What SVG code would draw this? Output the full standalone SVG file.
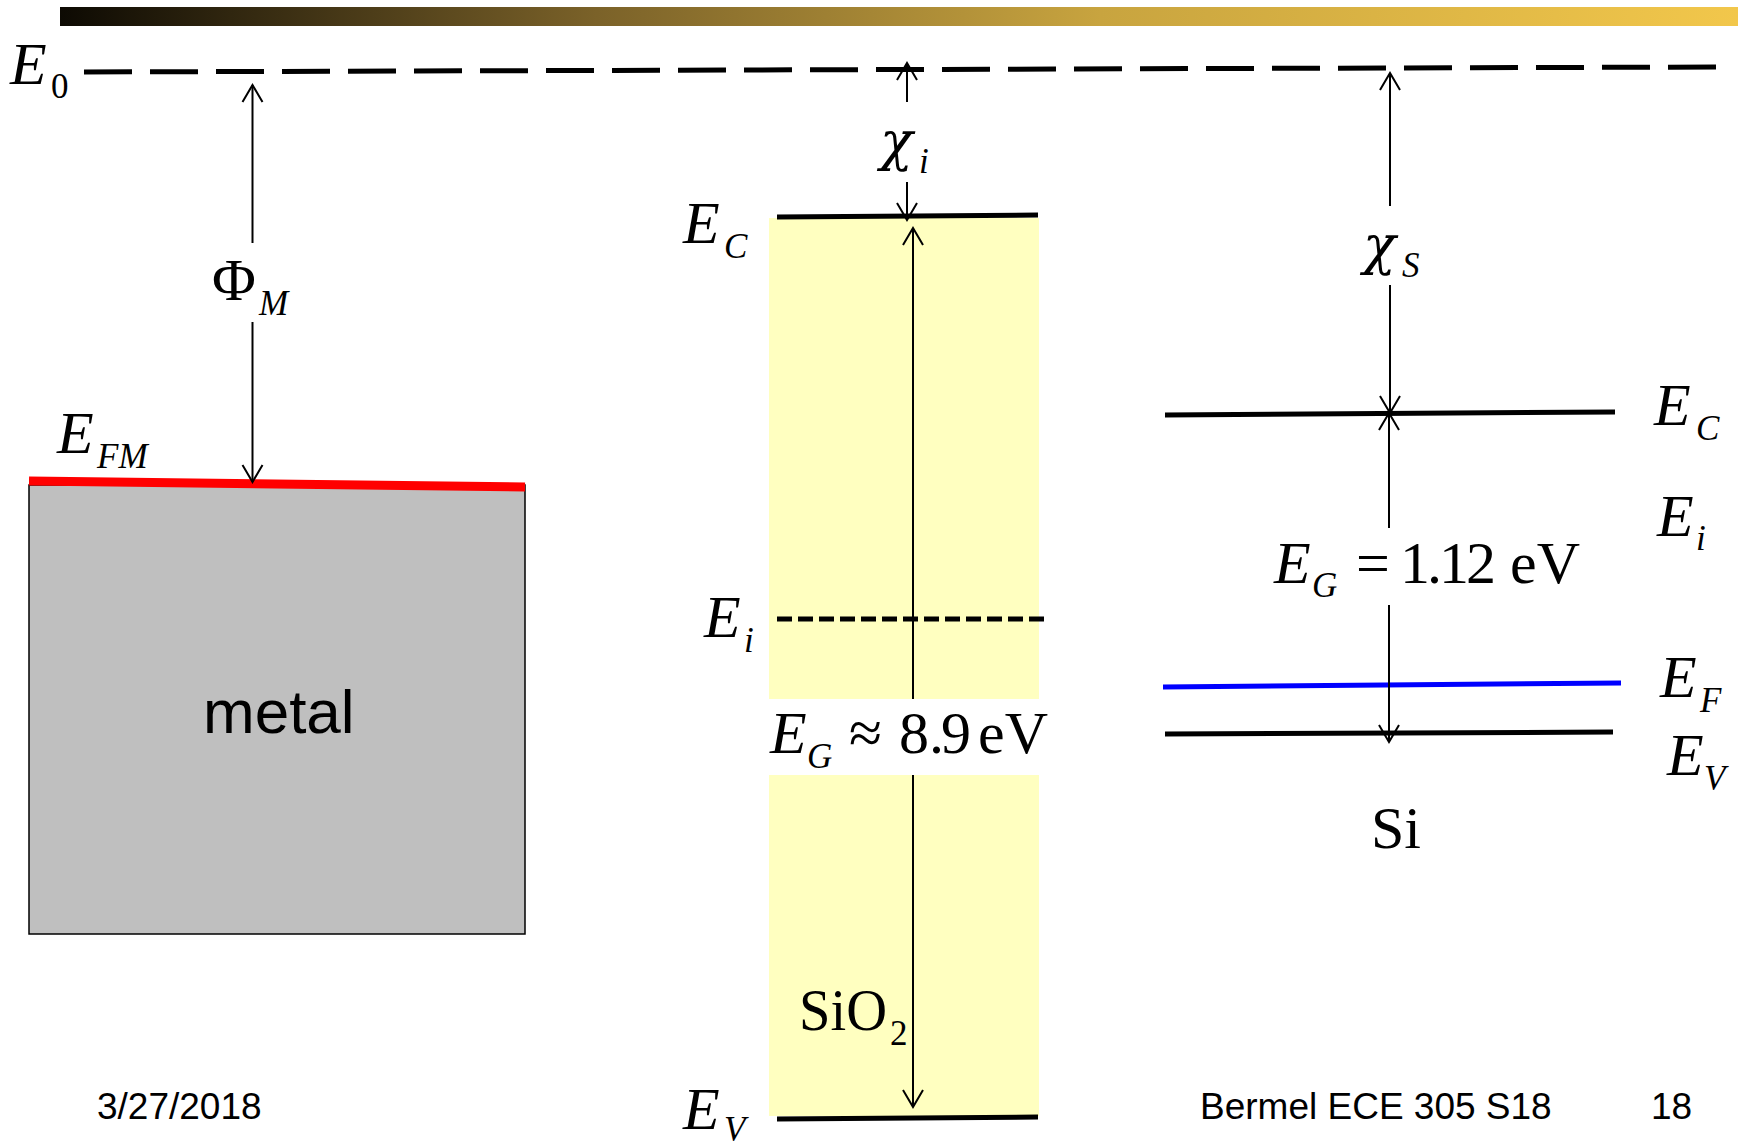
<svg xmlns="http://www.w3.org/2000/svg" width="1738" height="1147" viewBox="0 0 1738 1147">
<style>
.m{font-family:"Liberation Serif",serif;font-style:italic;font-size:60px;fill:#000}
.s{font-family:"Liberation Serif",serif;font-style:italic;font-size:35px;fill:#000}
.r{font-family:"Liberation Serif",serif;font-size:60px;fill:#000}
.rs{font-family:"Liberation Serif",serif;font-size:35px;fill:#000}
.chi{font-family:"DejaVu Serif",serif;font-style:italic;font-size:54px;fill:#000}
.a{font-family:"Liberation Sans",Arial,sans-serif;fill:#000}
.lvl{stroke:#000;stroke-width:5;fill:none}
.arr{stroke:#000;stroke-width:2;fill:none;marker-end:url(#ah)}
</style>
<defs>
<linearGradient id="bar" x1="0" y1="0" x2="1" y2="0">
<stop offset="0" stop-color="#0d0a03"/>
<stop offset="0.32" stop-color="#7b6229"/>
<stop offset="0.62" stop-color="#c8a43f"/>
<stop offset="1" stop-color="#f2c74b"/>
</linearGradient>
<marker id="ah" markerUnits="userSpaceOnUse" viewBox="-20 -12 22 24" markerWidth="22" markerHeight="24" refX="0" refY="0" orient="auto">
<path d="M-17,-10 L0,0 L-17,10" fill="none" stroke="#000" stroke-width="2"/>
</marker>
</defs>
<rect x="60" y="7" width="1678" height="19" fill="url(#bar)"/>

<g id="vacuum-level">
<path d="M84,72 L1719,67" class="lvl" stroke-dasharray="48 18"/>
<text class="m" x="10" y="84">E</text><text class="rs" x="51" y="98">0</text>
</g>

<g id="metal">
<rect x="29" y="485" width="496" height="449" fill="#bfbfbf" stroke="#000" stroke-width="1.5"/>
<path d="M29,481 L525,487" stroke="#ff0000" stroke-width="9" fill="none"/>
<text class="m" x="57" y="453">E</text><text class="s" x="97" y="468">FM</text>
<text class="a" x="203" y="733" font-size="62">metal</text>
</g>

<g id="sio2">
<rect x="769" y="218" width="270" height="481" fill="#ffffc0"/>
<rect x="769" y="775" width="270" height="341" fill="#ffffc0"/>
<path d="M777,217 L1038,215" class="lvl"/>
<path d="M777,619 L1048,619" class="lvl" stroke-dasharray="15 6"/>
<path d="M777,1119 L1038,1117" class="lvl"/>
<text class="m" x="683" y="243">E</text><text class="s" x="724" y="258">C</text>
<text class="m" x="704" y="637">E</text><text class="s" x="744" y="652">i</text>
<text class="m" x="683" y="1129">E</text><text class="s" x="724" y="1141">V</text>
<text class="r" x="799" y="1030" textLength="88" lengthAdjust="spacingAndGlyphs">SiO</text><text class="rs" x="890" y="1045">2</text>
</g>

<g id="si">
<path d="M1165,415 L1615,412" class="lvl"/>
<path d="M1163,687 L1621,683" stroke="#0000ff" stroke-width="5" fill="none"/>
<path d="M1165,734 L1613,732" class="lvl"/>
<text class="m" x="1654" y="425">E</text><text class="s" x="1696" y="440">C</text>
<text class="m" x="1657" y="536">E</text><text class="s" x="1696" y="550">i</text>
<text class="m" x="1660" y="697">E</text><text class="s" x="1700" y="712">F</text>
<text class="m" x="1667" y="775">E</text><text class="s" x="1704" y="790">V</text>
<text class="r" x="1371" y="848">Si</text>
</g>

<g id="connectors">
<path d="M252.5,243 L252.5,85" class="arr"/>
<path d="M252.5,322 L252.5,482" class="arr"/>
<path d="M907,102 L907,63" class="arr"/>
<path d="M907,182 L907,220" class="arr"/>
<path d="M913,699 L913,228" class="arr"/>
<path d="M913,775 L913,1107" class="arr"/>
<path d="M1390,206 L1390,73" class="arr"/>
<path d="M1390,285 L1390,413" class="arr"/>
<path d="M1389,528 L1389,413" class="arr"/>
<path d="M1389,605 L1389,742" class="arr"/>
</g>

<g id="labels">
<text class="r" x="212" y="300">Φ</text><text class="s" x="259" y="315">M</text>
<text class="chi" x="880" y="160">χ</text><text class="s" x="919" y="173">i</text>
<text class="chi" x="1363" y="264">χ</text><text class="s" x="1402" y="277">S</text>
<text class="m" x="770" y="753">E</text><text class="s" x="807" y="768">G</text>
<text class="r" x="849" y="753" font-size="64">≈</text>
<text class="r" x="899" y="753">8.</text><text class="r" x="941" y="753">9</text>
<text class="r" x="978" y="753">eV</text>
<text class="m" x="1274" y="583">E</text><text class="s" x="1312" y="597">G</text>
<text class="r" x="1356" y="583">=</text>
<text class="r" x="1400" y="583" textLength="96" lengthAdjust="spacing">1.12</text>
<text class="r" x="1510" y="583">eV</text>
</g>

<g id="footer">
<text class="a" x="97" y="1119" font-size="37">3/27/2018</text>
<text class="a" x="1200" y="1119" font-size="37">Bermel ECE 305 S18</text>
<text class="a" x="1651" y="1119" font-size="37">18</text>
</g>
</svg>
